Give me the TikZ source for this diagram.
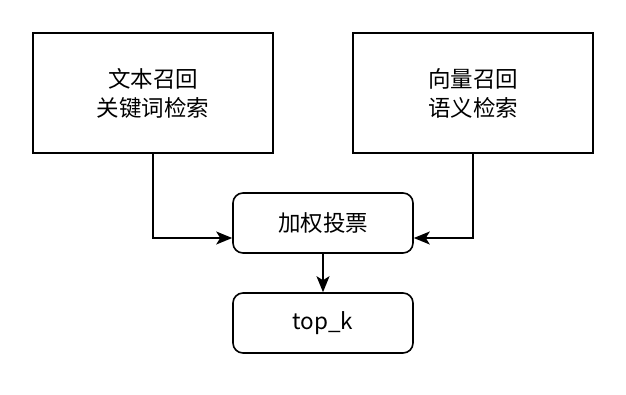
\documentclass[tikz,border=0pt]{standalone}
\usepackage{fontspec}
\setmainfont{Noto Sans CJK SC}
\usetikzlibrary{arrows.meta}
\begin{document}
\begin{tikzpicture}[x=1pt,y=-1pt,
  txtfont/.style={font=\fontsize{22.5}{29}\selectfont},
  sqbox/.style={draw,line width=1.6pt,minimum width=240pt,minimum height=120pt,align=center,txtfont,inner sep=0pt},
  rbox/.style={draw,line width=1.6pt,rounded corners=10pt,minimum width=180pt,minimum height=60pt,align=center,txtfont,inner sep=0pt},
  conn/.style={line width=1.6pt,-{Stealth[length=16pt,width=13pt,inset=4pt]}}]
\useasboundingbox (0,0) rectangle (626,394);
\node[sqbox] (txt) at (153,93) {文本召回\\关键词检索};
\node[sqbox] (vec) at (473,93) {向量召回\\语义检索};
\node[rbox] (vote) at (323,223) {加权投票};
\node[rbox] (topk) at (323,323) {top\_k};
\coordinate (inL) at ([yshift=-15pt]vote.west);
\coordinate (inR) at ([yshift=-15pt]vote.east);
\draw[conn] (txt.south) |- (inL);
\draw[conn] (vec.south) |- (inR);
\draw[conn] (vote.south) -- (topk.north);
\end{tikzpicture}
\end{document}
